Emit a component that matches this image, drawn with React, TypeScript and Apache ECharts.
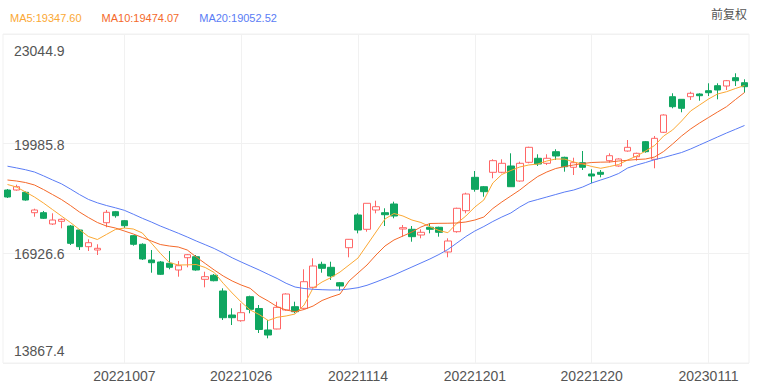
import React, { useEffect, useRef } from 'react';
import * as echarts from 'echarts';

const dates = [
  '20220919', '20220920', '20220921', '20220922', '20220923', '20220926', '20220927', '20220928', '20220929', '20220930',
  '20221003', '20221005', '20221006', '20221007', '20221010', '20221011', '20221012', '20221013', '20221014', '20221017',
  '20221018', '20221019', '20221020', '20221021', '20221024', '20221025', '20221026', '20221027', '20221028', '20221031',
  '20221101', '20221102', '20221103', '20221104', '20221107', '20221108', '20221109', '20221110', '20221111', '20221114',
  '20221115', '20221116', '20221117', '20221118', '20221121', '20221122', '20221123', '20221124', '20221125', '20221128',
  '20221129', '20221130', '20221201', '20221202', '20221205', '20221206', '20221207', '20221208', '20221209', '20221212',
  '20221213', '20221214', '20221215', '20221216', '20221219', '20221220', '20221221', '20221222', '20221223', '20221228',
  '20221229', '20221230', '20230103', '20230104', '20230105', '20230106', '20230109', '20230110', '20230111', '20230112',
  '20230113', '20230116', '20230117',
];

const openValues = [
  18693, 18693, 18629, 18060, 18060, 17745, 17820, 17689, 17577, 17112,
  17020, 17781, 18088, 17837, 17419, 17179, 16741, 16685, 16649, 16462,
  16805, 16833, 16202, 16314, 15876, 15206, 15047, 15717, 15388, 14788,
  14816, 15346, 15438, 15393, 15979, 16621, 16537, 16107, 17084, 17996,
  17597, 18135, 18060, 18303, 17605, 17597, 17438, 17653, 17653, 16964,
  17530, 18116, 19047, 18785, 19187, 19187, 19363, 18944, 19466, 19578,
  19438, 19762, 19605, 19327, 19455, 19140, 19187, 19511, 19363, 19781,
  19622, 20041, 19550, 20303, 21296, 21223, 21296, 21371, 21463, 21603,
  21594, 21826, 21686,
];

const closeValues = [
  18498, 18785, 18414, 18135, 17904, 17856, 17876, 17206, 17112, 17223,
  17067, 18071, 17976, 17697, 17179, 16769, 16665, 16342, 16537, 16582,
  16888, 16462, 16275, 16163, 15131, 15131, 15271, 15365, 14802, 14648,
  15421, 15792, 15298, 16135, 16573, 16509, 16294, 16015, 17318, 17577,
  18322, 18227, 18004, 17968, 17642, 17391, 17513, 17597, 17513, 17271,
  18183, 18582, 18713, 18646, 19511, 19438, 18785, 19438, 19884, 19419,
  19578, 19642, 19343, 19455, 19327, 19084, 19131, 19650, 19558, 19884,
  19717, 19762, 20135, 20785, 21017, 20972, 21391, 21324, 21407, 21483,
  21742, 21742, 21575,
];

const lowValues = [
  18470, 18674, 18395, 17948, 17884, 17717, 17625, 17159, 17020, 16992,
  16880, 17653, 17921, 17633, 17140, 16741, 16386, 16322, 16481, 16275,
  16537, 16442, 15979, 16146, 15067, 14927, 15019, 15254, 14704, 14556,
  14807, 15326, 15254, 15374, 15951, 16386, 16183, 15884, 16816, 17485,
  17530, 18043, 17689, 17904, 17391, 17251, 17346, 17485, 17391, 16816,
  17502, 18043, 18646, 18506, 19020, 19159, 18785, 18925, 19438, 19363,
  19391, 19530, 19204, 19112, 19251, 18880, 19047, 19455, 19343, 19762,
  19511, 19734, 19299, 20283, 20972, 20861, 21204, 21184, 21315, 21223,
  21483, 21594, 21407,
];

const highValues = [
  18721, 18841, 18651, 18172, 18108, 18043, 17904, 17717, 17605, 17318,
  17179, 18135, 18108, 17856, 17438, 17206, 17020, 16713, 16992, 16713,
  16908, 16880, 16414, 16350, 15951, 15393, 15533, 15745, 15485, 15067,
  15577, 15812, 15577, 16481, 16788, 16693, 16693, 16127, 17326, 18043,
  18322, 18395, 18183, 18367, 17717, 17689, 17597, 17764, 17670, 17346,
  18200, 18618, 19223, 18805, 19550, 19550, 19717, 19483, 19901, 19689,
  19689, 19829, 19622, 19594, 19781, 19271, 19251, 19717, 19578, 20088,
  19734, 20060, 20200, 20805, 21391, 21223, 21435, 21391, 21670, 21670,
  21762, 21949, 21781,
];

const ma5 = [
  18847, 18777, 18638, 18498, 18331, 18149, 17968, 17787, 17591, 17396,
  17312, 17452, 17591, 17633, 17605, 17494, 17215, 16928, 16671, 16601,
  16605, 16615, 16531, 16392, 16091, 15820, 15569, 15346, 15220, 15053,
  15142, 15179, 15234, 15485, 15960, 16127, 16252, 16406, 16601, 16796,
  17159, 17522, 17884, 18038, 17968, 17856, 17787, 17670, 17564, 17502,
  17764, 17968, 18219, 18414, 18889, 19126, 19237, 19335, 19391, 19419,
  19502, 19558, 19555, 19474, 19419, 19349, 19299, 19348, 19405, 19530,
  19642, 19781, 19935, 20200, 20367, 20618, 20897, 21064, 21232, 21371,
  21435, 21525, 21608,
];

const ma10 = [
  18972, 18944, 18902, 18833, 18707, 18568, 18428, 18261, 18080, 17926,
  17787, 17689, 17633, 17550, 17466, 17368, 17271, 17173, 17131, 17103,
  17020, 16824, 16643, 16462, 16294, 16155, 16043, 15951, 15736, 15597,
  15438, 15346, 15298, 15360, 15457, 15611, 15709, 15792, 16155, 16378,
  16601, 16880, 17131, 17299, 17410, 17522, 17661, 17759, 17764, 17766,
  17773, 17801, 17856, 17940, 18177, 18359, 18526, 18693, 18889, 19070,
  19195, 19293, 19349, 19391, 19432, 19460, 19470, 19474, 19502, 19522,
  19544, 19558, 19614, 19767, 19976, 20200, 20395, 20562, 20716, 20869,
  21017, 21218, 21413,
];

const ma20 = [
  19357, 19310, 19259, 19195, 19089, 18975, 18866, 18721, 18568, 18431,
  18336, 18261, 18197, 18127, 18018, 17904, 17801, 17689, 17589, 17488,
  17382, 17271, 17167, 17061, 16936, 16802, 16685, 16573, 16462, 16342,
  16225, 16091, 15987, 15946, 15923, 15912, 15904, 15906, 15932, 15968,
  16035, 16127, 16225, 16322, 16434, 16545, 16657, 16769, 16894, 17034,
  17215, 17396, 17550, 17675, 17815, 17940, 18052, 18219, 18359, 18428,
  18498, 18568, 18638, 18693, 18777, 18889, 18972, 19053, 19154, 19307,
  19391, 19460, 19539, 19600, 19670, 19739, 19837, 19949, 20060, 20172,
  20283, 20387, 20493,
];

const yTickValues = [13867.43, 16926.6, 19985.77, 23044.94];
const yTickLabels = ['13867.4', '16926.6', '19985.8', '23044.9'];
const legendNames = ['MA5', 'MA10', 'MA20'];
const legendValues = ['19347.60', '19474.07', '19052.52'];
const adjustLabel = '前复权';
const xLabelStep = 13;

const UP = '#FF6666';
const DOWN = '#0FA660';
const MA_COLORS = ['#FBA834', '#F4692A', '#5A7CF5'];
const GRID_LINE = '#f1f1f1';
const LATIN = 'Liberation Sans, Arial, sans-serif';

export default function App() {
  const ref = useRef<HTMLDivElement>(null);

  useEffect(() => {
    if (!ref.current) return;
    const chart = echarts.init(ref.current, undefined, { renderer: 'svg' });

    const candles = dates.map((_, i) => [openValues[i], closeValues[i], lowValues[i], highValues[i]]);
    const maSeries = [ma5, ma10, ma20];
    const showX = (idx: number) => idx > 0 && idx % xLabelStep === 0;

    const nearestTick = (v: number) => {
      let best = 0;
      for (let i = 1; i < yTickValues.length; i++) {
        if (Math.abs(yTickValues[i] - v) < Math.abs(yTickValues[best] - v)) best = i;
      }
      return best;
    };

    const labelStyle = { fontSize: 14, color: '#555', fontFamily: LATIN };

    chart.setOption({
      animation: false,
      backgroundColor: '#ffffff',
      legend: {
        left: 0,
        top: 6,
        icon: 'none',
        itemWidth: 0,
        itemHeight: 14,
        itemGap: 15,
        selectedMode: false,
        data: legendNames.map((n, i) => ({ name: n, textStyle: { color: MA_COLORS[i] } })),
        formatter: (name: string) => `${name}:${legendValues[legendNames.indexOf(name)]}`,
        textStyle: { fontSize: 11, fontFamily: LATIN },
      },
      graphic: [
        {
          type: 'text',
          right: 10,
          top: 7,
          style: {
            text: adjustLabel,
            fontSize: 12,
            fill: '#555',
            fontFamily: 'Noto Sans CJK SC, sans-serif',
          },
        },
      ],
      grid: {
        left: 3,
        right: 8,
        top: 34,
        bottom: 23,
        show: true,
        borderColor: GRID_LINE,
        borderWidth: 1,
      },
      xAxis: {
        type: 'category',
        data: dates,
        boundaryGap: true,
        axisLine: { show: false },
        axisTick: { show: false, interval: showX, alignWithLabel: true },
        axisLabel: { interval: showX, ...labelStyle, margin: 6 },
        splitLine: {
          show: true,
          interval: showX,
          alignWithLabel: true,
          lineStyle: { color: GRID_LINE, width: 1 },
        },
      },
      yAxis: {
        type: 'value',
        min: yTickValues[0],
        max: yTickValues[yTickValues.length - 1],
        axisLine: { show: false },
        axisTick: { show: false, customValues: yTickValues },
        axisLabel: {
          inside: true,
          customValues: yTickValues,
          margin: 11,
          ...labelStyle,
          formatter: (v: number) => {
            const i = nearestTick(v);
            const key = i === 0 ? 'bot' : i === yTickValues.length - 1 ? 'top' : 'mid';
            return `{${key}|${yTickLabels[i]}}`;
          },
          rich: {
            top: { ...labelStyle, padding: [33, 0, 0, 0] },
            bot: { ...labelStyle, padding: [0, 0, 25, 0] },
            mid: { ...labelStyle, padding: [2, 0, 0, 0] },
          },
        },
        splitLine: { show: true, lineStyle: { color: GRID_LINE, width: 1 } },
      },
      series: [
        {
          name: 'K',
          type: 'candlestick',
          data: candles,
          barWidth: 7,
          itemStyle: {
            color: '#ffffff',
            color0: DOWN,
            borderColor: UP,
            borderColor0: DOWN,
            borderWidth: 1,
          },
        },
        ...legendNames.map((n, i) => ({
          name: n,
          type: 'line',
          data: maSeries[i],
          symbol: 'none',
          showSymbol: false,
          smooth: false,
          lineStyle: { color: MA_COLORS[i], width: 1 },
          itemStyle: { color: MA_COLORS[i] },
          z: 3,
        })),
      ],
    });

    return () => chart.dispose();
  }, []);

  return (
    <div
      ref={ref}
      style={{ position: 'fixed', left: 0, top: 0, width: 757, height: 386, background: '#fff' }}
    />
  );
}
